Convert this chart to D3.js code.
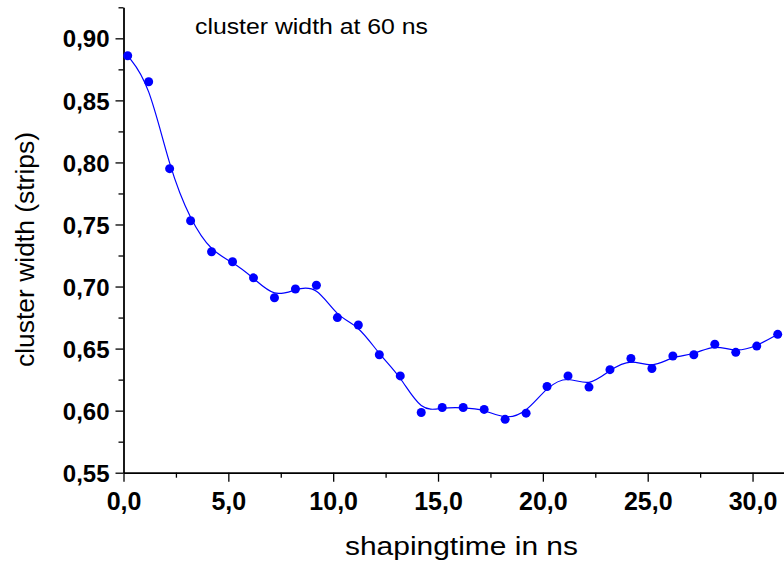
<!DOCTYPE html>
<html>
<head>
<meta charset="utf-8">
<script src="https://cdn.jsdelivr.net/npm/d3@7/dist/d3.min.js"></script>
<style>
  html, body { margin: 0; padding: 0; background: #fff; }
  svg { display: block; }
  text { font-family: "Liberation Sans", Arial, Helvetica, sans-serif; }
</style>
</head>
<body>
<svg id="chart" width="784" height="566"></svg>
<script>
// ---- data ----
const shapingTime = [0.2, 1.2, 2.2, 3.2, 4.2, 5.2, 6.2, 7.2, 8.2, 9.2, 10.2, 11.2, 12.2, 13.2, 14.2, 15.2,
                     16.2, 17.2, 18.2, 19.2, 20.2, 21.2, 22.2, 23.2, 24.2, 25.2, 26.2, 27.2, 28.2, 29.2, 30.2, 31.2];
const clusterWidth = [0.886, 0.865, 0.795, 0.753, 0.728, 0.720, 0.707, 0.691, 0.698, 0.701, 0.675, 0.669,
                      0.645, 0.628, 0.5985, 0.6025, 0.6025, 0.601, 0.593, 0.598, 0.6195, 0.628, 0.619, 0.633,
                      0.642, 0.634, 0.644, 0.645, 0.6535, 0.647, 0.652, 0.6615];
const xTicks = [0, 5, 10, 15, 20, 25, 30];
const xMinorTicks = [2.5, 7.5, 12.5, 17.5, 22.5, 27.5];
const yTicks = [0.55, 0.60, 0.65, 0.70, 0.75, 0.80, 0.85, 0.90];
const yMinorTicks = [0.575, 0.625, 0.675, 0.725, 0.775, 0.825, 0.875, 0.925];
const titleText = "cluster width at 60 ns";
const xLabel = "shapingtime in ns";
const yLabel = "cluster width (strips)";

const fmt = v => d3.format(",.1f")(v).replace(".", ",");
const fmtY = v => d3.format(".2f")(v).replace(".", ",");

const svg = d3.select("#chart");
const x = d3.scaleLinear().domain([0, 31.5]).range([123.5, 784]);
const y = d3.scaleLinear().domain([0.55, 0.925]).range([472.7, 7.3]);

const axisColor = "#000";

// x axis
const gx = svg.append("g").attr("transform", `translate(0,${y(0.55)})`);
gx.call(d3.axisBottom(x).tickValues(xTicks).tickSize(9).tickFormat(fmt).tickSizeOuter(0));
gx.append("g").call(d3.axisBottom(x).tickValues(xMinorTicks).tickSize(5).tickFormat("").tickSizeOuter(0))
  .select(".domain").remove();
gx.selectAll(".domain").attr("stroke", axisColor).attr("stroke-width", 1.8);
gx.selectAll(".tick line").attr("stroke", axisColor).attr("stroke-width", 1.3);
gx.selectAll(".tick text").attr("fill", "#000").attr("font-size", 25).attr("font-weight", "bold")
  .attr("font-family", '"Liberation Sans", Arial, sans-serif').attr("dy", "1.1em").attr("y", 10);

// y axis
const gy = svg.append("g").attr("transform", `translate(${x(0)},0)`);
gy.call(d3.axisLeft(y).tickValues(yTicks).tickSize(8).tickFormat(fmtY).tickSizeOuter(0));
gy.append("g").call(d3.axisLeft(y).tickValues(yMinorTicks).tickSize(5).tickFormat("").tickSizeOuter(0))
  .select(".domain").remove();
gy.selectAll(".domain").attr("stroke", axisColor).attr("stroke-width", 1.8);
gy.selectAll(".tick line").attr("stroke", axisColor).attr("stroke-width", 1.3);
gy.selectAll(".tick text").attr("fill", "#000").attr("font-size", 24).attr("font-weight", "bold")
  .attr("font-family", '"Liberation Sans", Arial, sans-serif').attr("x", -14).attr("dy", "0.36em");

// smooth curve
const data = shapingTime.map((t, i) => ({t, v: clusterWidth[i]}));
const line = d3.line().x(d => x(d.t)).y(d => y(d.v)).curve(d3.curveBasis);
svg.append("path").datum(data).attr("d", line)
  .attr("fill", "none").attr("stroke", "#0000ff").attr("stroke-width", 1.2);

// points
svg.append("g").selectAll("circle").data(data).join("circle")
  .attr("cx", d => x(d.t)).attr("cy", d => y(d.v)).attr("r", 4.5).attr("fill", "#0000ff");

// texts
svg.append("text").attr("x", 195).attr("y", 34).attr("font-size", 22)
  .attr("textLength", 233).attr("lengthAdjust", "spacingAndGlyphs").attr("fill", "#000").text(titleText);
svg.append("text").attr("x", 345).attr("y", 555).attr("font-size", 25)
  .attr("textLength", 233).attr("lengthAdjust", "spacingAndGlyphs").attr("fill", "#000").text(xLabel);
svg.append("text").attr("transform", "translate(34,367) rotate(-90)").attr("x", 0).attr("y", 0)
  .attr("font-size", 26).attr("textLength", 235).attr("lengthAdjust", "spacingAndGlyphs")
  .attr("fill", "#000").text(yLabel);
</script>
</body>
</html>
